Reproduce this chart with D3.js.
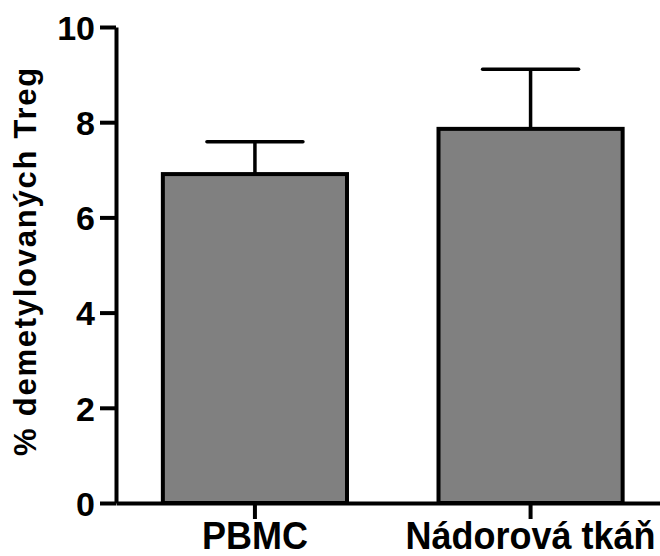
<!DOCTYPE html>
<html>
<head>
<meta charset="utf-8">
<script src="https://cdn.jsdelivr.net/npm/d3@7"></script>
<style>
  body { margin: 0; background: #fff; }
  svg { display: block; }
  text { font-family: "Liberation Sans", Arial, sans-serif; font-weight: bold; fill: #000; }
</style>
</head>
<body>
<div id="chart"></div>
<script>
// data
const categories = ["PBMC", "Nádorová tkáň"];
const means = [6.91, 7.86];
const errors = [0.68, 1.25];
const yTicks = [0, 2, 4, 6, 8, 10];
const yTitle = "% demetylovaných Treg";

function chart() {
    const width = 660;
    const height = 556;

    const svg = d3.select("#chart")
        .append("svg")
        .attr("width", width)
        .attr("height", height);

    const x = d3.scaleBand()
        .domain(categories)
        .range([116, 669.5])
        .paddingInner(0.332)
        .paddingOuter(0.17);

    const y = d3.scaleLinear()
        .domain([0, 10])
        .range([503, 27]);

    const bars = categories.map((c, i) => ({ c: c, m: means[i], e: errors[i] }));

    // error bars (upper only, drawn behind bars)
    const err = svg.append("g")
        .attr("stroke", "#000")
        .attr("stroke-width", 3.5);

    err.selectAll("line.stem")
        .data(bars)
        .join("line")
        .attr("class", "stem")
        .attr("x1", d => x(d.c) + x.bandwidth() / 2)
        .attr("x2", d => x(d.c) + x.bandwidth() / 2)
        .attr("y1", d => y(d.m))
        .attr("y2", d => y(d.m + d.e));

    err.selectAll("line.cap")
        .data(bars)
        .join("line")
        .attr("class", "cap")
        .attr("stroke-linecap", "round")
        .attr("x1", d => x(d.c) + x.bandwidth() / 2 - 48)
        .attr("x2", d => x(d.c) + x.bandwidth() / 2 + 48)
        .attr("y1", d => y(d.m + d.e))
        .attr("y2", d => y(d.m + d.e));

    svg.append("g")
        .selectAll("rect")
        .data(bars)
        .join("rect")
        .attr("x", d => x(d.c))
        .attr("y", d => y(d.m))
        .attr("width", x.bandwidth())
        .attr("height", d => y(0) - y(d.m))
        .attr("fill", "#808080")
        .attr("stroke", "#000")
        .attr("stroke-width", 4);

    // axes
    const yAxis = svg.append("g")
        .attr("transform", "translate(116,0)")
        .call(d3.axisLeft(y).tickValues(yTicks).tickSize(16).tickSizeOuter(0).tickPadding(5));

    const xAxis = svg.append("g")
        .attr("transform", "translate(0,503)")
        .call(d3.axisBottom(x).tickSize(16).tickSizeOuter(0));

    [yAxis, xAxis].forEach(a => {
        a.select(".domain").attr("stroke-width", 4).attr("stroke", "#000");
        a.selectAll(".tick line").attr("stroke-width", 4).attr("stroke", "#000");
    });

    yAxis.selectAll(".tick text")
        .attr("font-size", 34)
        .attr("font-family", null)
        .attr("dy", "0.36em");

    xAxis.selectAll(".tick text")
        .attr("font-size", 36)
        .attr("font-family", null)
        .attr("y", 0)
        .attr("dy", null)
        .attr("transform", "translate(0,46) scale(1,1.06)");

    svg.append("text")
        .attr("transform", "translate(36,261) rotate(-90)")
        .attr("text-anchor", "middle")
        .attr("font-size", 31)
        .attr("letter-spacing", 1.75)
        .text(yTitle);
}

chart();
</script>
</body>
</html>
